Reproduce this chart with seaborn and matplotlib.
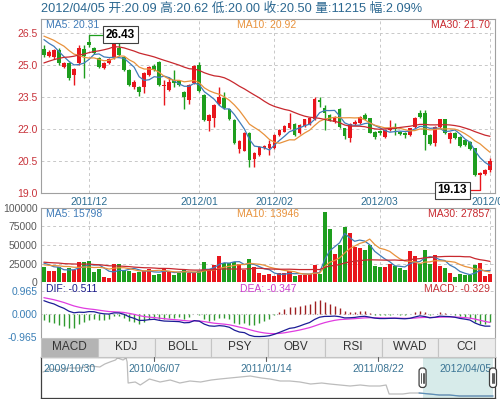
import numpy as np
import pandas as pd
import matplotlib
matplotlib.use("Agg")
import matplotlib.pyplot as plt
from matplotlib.patches import Rectangle, FancyBboxPatch
import seaborn as sns

sns.set_style("white")
plt.rcParams['font.family'] = ['Liberation Sans', 'Noto Sans CJK SC', 'DejaVu Sans']

# ---------------- data ----------------
opens = [25.73, 25.42, 25.36, 25.70, 24.89, 25.08, 24.53, 25.08, 25.73, 26.09,
         25.78, 25.31, 24.84, 25.08, 25.36, 25.78, 25.39, 24.77, 23.98, 23.98,
         23.98, 24.53, 24.95, 25.16, 24.02, 23.83, 24.30, 24.25, 23.75, 23.36,
         24.14, 25.00, 23.59, 22.39, 22.50, 23.17, 23.47, 22.92, 22.42, 21.05,
         20.98, 21.80, 20.58, 20.78, 21.09, 21.09, 21.09, 21.72, 21.88, 22.03,
         22.22, 21.80, 22.14, 22.24, 22.45, 23.36, 22.97, 22.66, 22.34, 22.92,
         22.03, 21.56, 22.24, 22.27, 22.66, 22.50, 21.88, 21.91, 21.61, 21.95,
         22.08, 21.88, 21.80, 21.72, 22.08, 22.73, 22.73, 21.72, 21.33, 22.08,
         22.45, 21.52, 21.80, 21.64, 21.48, 21.41, 21.09, 19.84, 19.89, 20.09]
highs = [25.94, 25.70, 25.75, 25.78, 25.12, 25.12, 24.85, 25.94, 25.94, 26.43,
         25.85, 25.36, 25.12, 25.31, 26.17, 26.30, 25.42, 24.80, 24.28, 24.02,
         24.66, 24.97, 25.05, 25.20, 24.30, 24.45, 24.77, 24.30, 23.80, 24.10,
         25.00, 25.16, 23.62, 22.70, 23.17, 23.98, 23.75, 22.95, 22.46, 21.50,
         21.85, 21.85, 20.90, 21.22, 21.24, 21.48, 21.76, 21.99, 22.18, 22.77,
         22.26, 22.23, 22.49, 22.54, 23.49, 23.49, 23.13, 22.70, 22.60, 22.97,
         22.06, 22.28, 22.40, 22.62, 22.77, 22.54, 21.92, 21.95, 21.99, 22.42,
         22.27, 21.92, 21.84, 22.07, 22.58, 22.88, 22.88, 21.76, 22.15, 22.49,
         22.49, 21.87, 21.84, 21.68, 21.52, 21.45, 21.13, 19.99, 20.12, 20.62]
lows = [25.40, 25.38, 25.30, 25.02, 24.85, 24.30, 24.06, 25.00, 24.38, 25.85,
        25.50, 24.88, 24.80, 25.04, 25.30, 25.42, 24.72, 24.02, 23.90, 23.55,
        23.70, 24.48, 24.70, 24.02, 23.13, 23.80, 23.98, 24.00, 22.92, 23.17,
        24.10, 23.75, 22.38, 21.91, 22.11, 23.13, 22.93, 22.40, 21.30, 20.89,
        20.95, 20.23, 20.23, 20.74, 21.05, 20.78, 21.05, 21.68, 21.84, 22.00,
        21.68, 21.76, 22.10, 22.20, 22.41, 23.05, 21.95, 22.38, 22.30, 22.03,
        21.52, 21.41, 22.20, 22.22, 22.41, 21.80, 21.52, 21.72, 21.58, 21.92,
        21.72, 21.70, 21.56, 21.68, 22.04, 22.50, 21.02, 21.25, 21.20, 22.04,
        21.79, 21.33, 21.52, 21.16, 21.20, 21.02, 19.80, 19.13, 19.85, 20.00]
closes = [25.47, 25.63, 25.70, 25.08, 25.08, 24.38, 24.80, 25.78, 25.42, 25.94,
          25.55, 24.92, 25.08, 25.27, 25.99, 25.47, 24.77, 24.06, 24.22, 23.75,
          24.61, 24.92, 24.77, 24.06, 24.06, 24.22, 24.17, 24.06, 23.52, 24.06,
          24.95, 23.80, 22.42, 22.66, 23.13, 23.52, 22.97, 22.45, 21.33, 21.45,
          21.80, 20.55, 20.86, 21.17, 21.20, 21.30, 21.72, 21.95, 22.14, 22.27,
          21.72, 22.19, 22.45, 22.50, 23.39, 23.28, 22.73, 22.42, 22.55, 22.08,
          21.67, 22.24, 22.34, 22.58, 22.45, 21.83, 21.64, 21.80, 21.95, 22.03,
          21.98, 21.75, 21.72, 22.03, 22.53, 22.58, 21.72, 21.30, 22.11, 22.45,
          21.83, 21.83, 21.56, 21.20, 21.25, 21.06, 19.84, 19.95, 20.08, 20.50]
volumes = [20300, 15300, 15300, 21100, 12200, 18900, 16600, 27800, 27800, 28800,
           14300, 18000, 7600, 5400, 24300, 24700, 16600, 15700, 12200, 14300,
           15700, 18000, 9400, 10800, 19700, 15300, 9900, 12200, 16600, 12200,
           14300, 15300, 27800, 18000, 23400, 35900, 25700, 25700, 26700, 24300,
           16600, 31500, 20000, 12200, 9900, 10800, 9000, 12200, 12200, 15700,
           8500, 9900, 9900, 10800, 23400, 11000, 94600, 71000, 37800, 50400,
           73800, 66200, 46700, 45900, 43600, 49400, 22000, 21100, 21100, 24300,
           22000, 18900, 16600, 42300, 35900, 25000, 43600, 24300, 36900, 22000,
           18900, 13000, 7600, 11200, 9900, 9700, 23400, 25700, 9000, 11215]
# sessions before the first visible candle (only feed the moving averages / MACD)
prior_closes = [23.2, 23.5, 23.3, 23.6, 23.9, 23.7, 24.0, 24.2, 23.9, 24.1,
                23.8, 23.6, 23.5, 23.5, 25.8, 26.1, 26.3, 26.4, 26.5, 26.5,
                26.6, 26.7, 26.5, 26.4, 26.4, 26.5, 26.4, 26.3, 26.3]
prior_volumes = [32000, 26000, 30000, 35000, 27000, 24000, 31000, 29000, 26000, 33000,
                 28000, 25000, 30000, 27000, 32000, 26000, 29000, 31000, 28000, 27000,
                 22000, 19000, 24000, 20500, 20000, 26000, 29000, 24200, 29000]
month_labels = ["2011/12", "2012/01", "2012/02", "2012/03", "2012/04"]
month_index = [9, 31, 46, 67, 89]

nav_dates = ["2009-10-30", "2009-11-13", "2009-12-03", "2009-12-22", "2010-01-11",
             "2010-02-01", "2010-02-19", "2010-03-01", "2010-03-11", "2010-03-22",
             "2010-03-26", "2010-04-06", "2010-04-12", "2010-04-14", "2010-04-16",
             "2010-04-30", "2010-05-10", "2010-05-28", "2010-06-18", "2010-07-08",
             "2010-07-27", "2010-08-16", "2010-09-06", "2010-09-27", "2010-10-14",
             "2010-11-03", "2010-11-23", "2010-12-13", "2011-01-04", "2011-01-21",
             "2011-02-10", "2011-03-01", "2011-03-21", "2011-04-11", "2011-05-03",
             "2011-05-19", "2011-06-08", "2011-06-28", "2011-07-18", "2011-08-05",
             "2011-08-26", "2011-09-07", "2011-09-13", "2011-10-10", "2011-10-24",
             "2011-11-11", "2011-12-02", "2011-12-21", "2012-01-10", "2012-01-30",
             "2012-02-20", "2012-03-09", "2012-04-05"]
nav_close = [56, 60.5, 59, 62, 62, 65, 63.5, 68, 71, 74,
             77, 74, 77, 71, 39.5, 41, 36.5, 45.5, 41, 44,
             39.5, 42.5, 41, 44, 45.5, 47, 48.5, 50, 47, 45.5,
             42.5, 42.5, 41, 38, 39.5, 38, 36.5, 35, 36.5, 35,
             35, 36.5, 23, 23, 24.5, 24.5, 23, 21.5, 21.5, 20,
             20, 20, 20]
nav_labels = ["2009/10/30", "2010/06/07", "2011/01/14", "2011/08/22", "2012/04/05"]
nav_label_dates = ["2009-10-30", "2010-06-07", "2011-01-14", "2011-08-22", "2012-04-05"]
nav_start, nav_end, sel_start = "2009-10-30", "2012-04-05", "2011-11-18"
tabs = ["MACD", "KDJ", "BOLL", "PSY", "OBV", "RSI", "WVAD", "CCI"]

header = "2012/04/05 开:20.09 高:20.62 低:20.00 收:20.50 量:11215 幅:2.09%"
price_ma_text = ["MA5: 20.31", "MA10: 20.92", "MA30: 21.70"]
vol_ma_text = ["MA5: 15798", "MA10: 13946", "MA30: 27857"]
macd_text = ["DIF: -0.511", "DEA: -0.347", "MACD: -0.329"]

# ---------------- derived ----------------
o = np.array(opens); h = np.array(highs); l = np.array(lows); c = np.array(closes)
v = np.array(volumes, float)
n = len(c)
x = np.arange(n)
npre = len(prior_closes)
allc = pd.Series(prior_closes + closes, dtype=float)
allv = pd.Series(prior_volumes + volumes, dtype=float)
ma = {k: allc.rolling(k).mean().values[npre:] for k in (5, 10, 30)}
vma = {k: allv.rolling(k).mean().values[npre:] for k in (5, 10, 30)}
ema12 = allc.ewm(span=12, adjust=False).mean()
ema26 = allc.ewm(span=26, adjust=False).mean()
dif_all = ema12 - ema26
dea_all = dif_all.ewm(span=9, adjust=False).mean()
dif = dif_all.values[npre:]; dea = dea_all.values[npre:]
hist = 2 * (dif - dea)

RED = '#e8161c'; GREEN = '#1e9e1e'
C5 = '#3f7bb8'; C10 = '#e8923c'; C30 = '#c8282e'
GRID = '#c8c8c8'; SPINE = '#a0a0a0'
cols = np.where(c >= o, RED, GREEN)

W, H = 500, 399
fig = plt.figure(figsize=(W / 100, H / 100), dpi=100)
fig.patch.set_facecolor('white')

def px(x0, y0, x1, y1):
    return [x0 / W, 1 - y1 / H, (x1 - x0) / W, (y1 - y0) / H]

ax_p = fig.add_axes(px(41, 19, 495, 193))
ax_v = fig.add_axes(px(41, 207.7, 495, 282.3), sharex=ax_p)
ax_m = fig.add_axes(px(41, 282.3, 495, 338), sharex=ax_p)
ax_n = fig.add_axes(px(41, 357, 495, 398))
ax_ui = fig.add_axes([0, 0, 1, 1], zorder=5)
ax_ui.set_xlim(0, W); ax_ui.set_ylim(H, 0); ax_ui.axis('off'); ax_ui.patch.set_alpha(0)

dash = (0, (3, 3))
for ax in (ax_p, ax_v, ax_m):
    for s in ax.spines.values():
        s.set_color(SPINE); s.set_linewidth(0.8)

# ---------------- price panel ----------------
ax_p.vlines(x, l, h, colors=cols, lw=1, zorder=3)
ax_p.bar(x, np.maximum(np.abs(c - o), 0.03), bottom=np.minimum(o, c), width=0.74,
         color=cols, lw=0, zorder=4)
for k, col in ((5, C5), (10, C10), (30, C30)):
    sns.lineplot(x=x, y=ma[k], ax=ax_p, color=col, lw=0.9, zorder=5)
ax_p.set_xlim(-0.58, 90.0)
ax_p.set_ylim(19.0, 27.16)
pt = [19.0, 20.5, 22.0, 23.5, 25.0, 26.5]
ax_p.set_yticks(pt, [f"{t:.1f}" for t in pt])
ax_p.set_xticks(month_index, month_labels)
ax_p.tick_params(axis='y', length=0, pad=2.5, labelsize=7.5, labelcolor='#c8323a')
ax_p.tick_params(axis='x', length=0, pad=3.0, labelsize=7.5, labelcolor='#2c6d92')
ax_p.grid(True, color=GRID, ls=dash, lw=0.7)
ax_p.set_axisbelow(True)
ax_p.set_xlabel(''); ax_p.set_ylabel('')

i_hi = int(np.argmax(h)); i_lo = int(np.argmin(l))
ax_p.plot([i_hi, i_hi + 3.3], [h[i_hi], h[i_hi]], color=cols[i_hi], lw=0.9, zorder=6)
ax_p.text(i_hi + 3.4, h[i_hi], f"{h[i_hi]:.2f}", ha='left', va='center', fontsize=8.5,
          fontweight='bold', color='black', zorder=7,
          bbox=dict(boxstyle='square,pad=0.22', fc='white', ec='#404040', lw=0.8))
ax_p.plot([i_lo - 2.5, i_lo], [l[i_lo], l[i_lo]], color=cols[i_lo], lw=0.9, zorder=6)
ax_p.text(i_lo - 2.6, l[i_lo], f"{l[i_lo]:.2f}", ha='right', va='center', fontsize=8.5,
          fontweight='bold', color='black', zorder=7, clip_on=False,
          bbox=dict(boxstyle='square,pad=0.22', fc='white', ec='#404040', lw=0.8))

# ---------------- volume panel ----------------
ax_v.bar(x, v, width=0.8, color=cols, lw=0, zorder=3)
for k, col in ((5, C5), (10, C10), (30, C30)):
    sns.lineplot(x=x, y=vma[k], ax=ax_v, color=col, lw=0.9, zorder=5)
ax_v.set_ylim(0, 100000)
vt = [0, 25000, 50000, 75000, 100000]
ax_v.set_yticks(vt, [str(t) for t in vt])
ax_v.tick_params(axis='y', length=0, pad=2.5, labelsize=7.5, labelcolor='#5a5a5a')
ax_v.tick_params(axis='x', length=0, labelbottom=False)
ax_v.grid(True, color=GRID, ls=dash, lw=0.7)
ax_v.set_axisbelow(True)
ax_v.spines['bottom'].set_color('#dddddd')
ax_v.set_xlabel(''); ax_v.set_ylabel('')

# ---------------- MACD panel ----------------
ax_m.vlines(x, 0, hist, colors=np.where(hist >= 0, '#9e1f22', '#2f9a2f'), lw=1, zorder=3)
sns.lineplot(x=x, y=dea, ax=ax_m, color='#e03ce0', lw=0.9, zorder=4)
sns.lineplot(x=x, y=dif, ax=ax_m, color='#1c1c96', lw=0.9, zorder=5)
ax_m.set_ylim(-1.008, 1.351)
ax_m.set_yticks([-0.965, 0, 0.965], ['-0.965', '0.000', '0.965'])
ax_m.tick_params(axis='y', length=0, pad=2.5, labelsize=7.5, labelcolor='#3a7fb6')
ax_m.tick_params(axis='x', length=0, labelbottom=False)
ax_m.grid(False)
ax_m.axhline(0.965, color=GRID, ls=dash, lw=0.7, zorder=1)
ax_m.axhline(0, color='#b0b0b0', ls=(0, (1, 3)), lw=0.8, zorder=1)
ax_m.spines['top'].set_visible(False)
ax_m.spines['bottom'].set_visible(False)
ax_m.set_xlabel(''); ax_m.set_ylabel('')

# ---------------- panel labels ----------------
fs = 7.5
ax_ui.text(41, 8.5, header, color='#2a6790', fontsize=9.2, va='center', ha='left')
ax_ui.text(46, 25, price_ma_text[0], color=C5, fontsize=fs, va='center')
ax_ui.text(237, 25, price_ma_text[1], color=C10, fontsize=fs, va='center')
ax_ui.text(490, 25, price_ma_text[2], color=C30, fontsize=fs, va='center', ha='right')
ax_ui.text(46, 214, vol_ma_text[0], color=C5, fontsize=fs, va='center')
ax_ui.text(237, 214, vol_ma_text[1], color=C10, fontsize=fs, va='center')
ax_ui.text(490, 214, vol_ma_text[2], color=C30, fontsize=fs, va='center', ha='right')
ax_ui.text(46, 288.5, macd_text[0], color='#1c1c8c', fontsize=fs, va='center')
ax_ui.text(240, 288.5, macd_text[1], color='#cc3ccc', fontsize=fs, va='center')
ax_ui.text(490, 288.5, macd_text[2], color='#c8323a', fontsize=fs, va='center', ha='right')

# ---------------- tabs ----------------
tw = (495 - 41) / len(tabs)
for j, t in enumerate(tabs):
    x0 = 41 + j * tw
    ax_ui.add_patch(Rectangle((x0, 338), tw, 18.5, fc='#b4b4b4' if j == 0 else '#ececec',
                              ec='#c4c4c4', lw=0.8))
    ax_ui.text(x0 + tw / 2, 347.5, t, ha='center', va='center', fontsize=8.5, color='#333333')

# ---------------- navigator ----------------
nd = pd.to_datetime(nav_dates)
d0 = pd.Timestamp(nav_start); d1 = pd.Timestamp(nav_end)
span = (d1 - d0).days
ax_n.set_xlim(d0 - pd.Timedelta(days=span * 2 / 450), d1 + pd.Timedelta(days=span * 2 / 450))
ax_n.set_ylim(17, 78.5)
ax_n.axvspan(pd.Timestamp(sel_start), d1, color='#d7ebea', lw=0, zorder=1)
sns.lineplot(x=nd, y=nav_close, ax=ax_n, color='#bcbcbc', lw=0.9, zorder=2)
sel = nd >= pd.Timestamp(sel_start) - pd.Timedelta(days=8)
sns.lineplot(x=nd[sel], y=np.array(nav_close)[sel], ax=ax_n, color='#5b8fb9', lw=0.9, zorder=3)
ax_n.set_xticks([]); ax_n.set_yticks([])
ax_n.set_xlabel(''); ax_n.set_ylabel('')
for s in ax_n.spines.values():
    s.set_color('#404040'); s.set_linewidth(0.9)

def nav_px(ds):
    return 43 + (pd.Timestamp(ds) - d0).days / span * 450

for j, (lab, ds) in enumerate(zip(nav_labels, nav_label_dates)):
    xp = nav_px(ds)
    if j == 0:
        ax_ui.text(43, 369, lab, ha='left', va='center', fontsize=fs, color='#3a7494')
    elif j == len(nav_labels) - 1:
        ax_ui.text(492, 369, lab, ha='right', va='center', fontsize=fs, color='#3a7494')
    else:
        ax_ui.plot([xp, xp], [357, 361], color='#606060', lw=0.8)
        ax_ui.text(xp, 369, lab, ha='center', va='center', fontsize=fs, color='#3a7494')

for hx in (nav_px(sel_start), 493):
    ax_ui.add_patch(FancyBboxPatch((hx - 3.5, 368), 7, 19.5, boxstyle='round,pad=0,rounding_size=3',
                                   fc='white', ec='#404040', lw=0.9, zorder=6))
    for dx in (-1.3, 0, 1.3):
        ax_ui.plot([hx + dx, hx + dx], [373, 383], color='#404040', lw=0.6, zorder=7)

fig.savefig("out.png", dpi=100, facecolor='white')
